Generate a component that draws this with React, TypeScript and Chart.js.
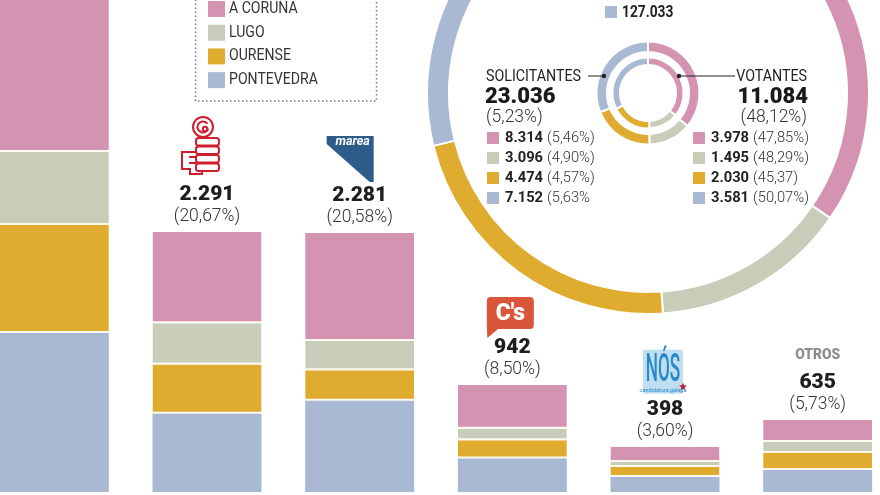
import React, { useEffect, useRef } from 'react';
import { Chart, registerables } from 'chart.js';

Chart.register(...registerables);

// ---------- data ----------
const provinces = ['A CORUÑA', 'LUGO', 'OURENSE', 'PONTEVEDRA'];
const provinceColors = ['#d494b1', '#c7cdb9', '#e0ac30', '#a9b9d4'];

const parties = ['PP', 'PSOE', 'En Marea', "C's", 'NÓS', 'OTROS'];
const partyTotals = ['4.537', '2.291', '2.281', '942', '398', '635'];
const partyPercents = ['(40,93%)', '(20,67%)', '(20,58%)', '(8,50%)', '(3,60%)', '(5,73%)'];
const votesCoruna = [1542, 805, 950, 385, 133, 194];
const votesLugo = [643, 362, 258, 100, 45, 97];
const votesOurense = [951, 434, 268, 162, 88, 150];
const votesPontevedra = [1401, 690, 805, 295, 132, 194];
const barAxisMax = 4335;

const censusByProvince = [152271, 63184, 97899, 127033];
const censusVisibleLabel = '127.033';

const applicantsTitle = 'SOLICITANTES';
const applicantsTotal = '23.036';
const applicantsPercent = '(5,23%)';
const applicants = [8314, 3096, 4474, 7152];
const applicantLabels = ['8.314', '3.096', '4.474', '7.152'];
const applicantPercents = ['(5,46%)', '(4,90%)', '(4,57%)', '(5,63%'];

const votersTitle = 'VOTANTES';
const votersTotal = '11.084';
const votersPercent = '(48,12%)';
const voters = [3978, 1495, 2030, 3581];
const voterLabels = ['3.978', '1.495', '2.030', '3.581'];
const voterPercents = ['(47,85%)', '(48,29%)', '(45,37)', '(50,07%)'];

// ---------- layout constants ----------
const FF = "Roboto, 'Noto Sans', sans-serif";
const BAR_LEFT = -22;
const BAR_W = 916;
const RING_LEFT = 426;
const RING_TOP = -129;
const RING_SIZE = 444;
const GAP = '#fdf9ee';

function drawText(
  ctx: CanvasRenderingContext2D,
  s: string,
  x: number,
  y: number,
  font: string,
  color: string,
  align: CanvasTextAlign = 'left',
  sx = 1
): number {
  ctx.save();
  ctx.font = font;
  ctx.fillStyle = color;
  ctx.textBaseline = 'middle';
  ctx.textAlign = align;
  const w = ctx.measureText(s).width * sx;
  ctx.translate(x, y);
  ctx.scale(sx, 1);
  ctx.fillText(s, 0, 0);
  ctx.restore();
  return w;
}

function roundRect(ctx: CanvasRenderingContext2D, x: number, y: number, w: number, h: number, r: number) {
  ctx.beginPath();
  ctx.moveTo(x + r, y);
  ctx.lineTo(x + w - r, y);
  ctx.quadraticCurveTo(x + w, y, x + w, y + r);
  ctx.lineTo(x + w, y + h - r);
  ctx.quadraticCurveTo(x + w, y + h, x + w - r, y + h);
  ctx.lineTo(x + r, y + h);
  ctx.quadraticCurveTo(x, y + h, x, y + h - r);
  ctx.lineTo(x, y + r);
  ctx.quadraticCurveTo(x, y, x + r, y);
  ctx.closePath();
}

function drawLogo(ctx: CanvasRenderingContext2D, i: number, cx: number, top: number) {
  ctx.save();
  ctx.translate(cx, top);
  if (i === 1) {
    // PSOE rose & fist (simplified)
    const red = '#cf1f2e';
    ctx.strokeStyle = red;
    ctx.lineWidth = 2;
    ctx.beginPath();
    ctx.arc(-4, -105, 10, 0, Math.PI * 2);
    ctx.stroke();
    ctx.beginPath();
    ctx.arc(-4, -105, 5.5, 0.3, Math.PI * 1.8);
    ctx.stroke();
    ctx.beginPath();
    ctx.arc(-2, -103, 2.2, 0, Math.PI * 2);
    ctx.stroke();
    for (let k = 0; k < 4; k++) {
      roundRect(ctx, -11, -94 + k * 8.5, 23, 7.5, 2.5);
      ctx.stroke();
    }
    ctx.beginPath();
    ctx.moveTo(-11, -80);
    ctx.lineTo(-25, -80);
    ctx.lineTo(-25, -63);
    ctx.lineTo(-17, -63);
    ctx.lineTo(-17, -58);
    ctx.lineTo(-5, -58);
    ctx.lineTo(-5, -62);
    ctx.stroke();
    ctx.beginPath();
    ctx.moveTo(-18, -75);
    ctx.lineTo(-11, -75);
    ctx.moveTo(-18, -69);
    ctx.lineTo(-11, -69);
    ctx.stroke();
  } else if (i === 2) {
    // En Marea
    ctx.fillStyle = '#2e5c8a';
    ctx.beginPath();
    ctx.moveTo(-33, -97);
    ctx.lineTo(14, -97);
    ctx.lineTo(14, -51);
    ctx.lineTo(10, -51);
    ctx.lineTo(-33, -89);
    ctx.closePath();
    ctx.fill();
    drawText(ctx, 'marea', -7, -91.5, `italic bold 12.5px ${FF}`, '#ffffff', 'center');
  } else if (i === 3) {
    // Ciudadanos
    ctx.fillStyle = '#d9563b';
    roundRect(ctx, -25.5, -88, 47, 32, 4);
    ctx.fill();
    ctx.beginPath();
    ctx.moveTo(-25.5, -60);
    ctx.lineTo(-25, -47);
    ctx.lineTo(-13, -57);
    ctx.closePath();
    ctx.fill();
    drawText(ctx, "C's", -2, -71, `900 24px ${FF}`, '#ffffff', 'center', 0.95);
  } else if (i === 4) {
    // NÓS
    ctx.fillStyle = '#bfdff1';
    roundRect(ctx, -22, -97, 40, 44, 2);
    ctx.fill();
    drawText(ctx, 'NÓS', -2, -76, `500 39px ${FF}`, '#2a8ac8', 'center', 0.44);
    drawText(ctx, 'candidatura galega', -2, -56, `5.5px ${FF}`, '#2a8ac8', 'center');
    // star
    ctx.fillStyle = '#b0283a';
    ctx.beginPath();
    const sx = 18, sy = -60;
    for (let k = 0; k < 10; k++) {
      const r = k % 2 === 0 ? 4 : 1.8;
      const a = -Math.PI / 2 + (k * Math.PI) / 5;
      const px = sx + r * Math.cos(a);
      const py = sy + r * Math.sin(a);
      if (k === 0) ctx.moveTo(px, py);
      else ctx.lineTo(px, py);
    }
    ctx.closePath();
    ctx.fill();
  } else if (i === 5) {
    drawText(ctx, 'OTROS', 0, -65, `900 15px ${FF}`, '#8c8c8c', 'center', 0.92);
  }
  ctx.restore();
}

const barLabelsPlugin = {
  id: 'barLabels',
  afterDatasetsDraw(chart: any) {
    const ctx: CanvasRenderingContext2D = chart.ctx;
    const topMeta = chart.getDatasetMeta(chart.data.datasets.length - 1);
    topMeta.data.forEach((el: any, i: number) => {
      const cx = el.x;
      const top = el.y;
      if (top - 15 < 0) return;
      drawLogo(ctx, i, cx, top);
      drawText(ctx, partyTotals[i], cx, top - 37, `900 21px ${FF}`, '#1e1e1e', 'center');
      drawText(ctx, partyPercents[i], cx, top - 15, `300 17.5px ${FF}`, '#333333', 'center');
    });
  },
};

const boxLegendPlugin = {
  id: 'boxLegend',
  afterDraw(chart: any) {
    const ctx: CanvasRenderingContext2D = chart.ctx;
    ctx.save();
    ctx.translate(-BAR_LEFT, 0);
    ctx.strokeStyle = '#7a7a7a';
    ctx.lineWidth = 1.5;
    ctx.setLineDash([1.5, 2.5]);
    ctx.strokeRect(195.5, -5, 181, 106);
    ctx.setLineDash([]);
    const ds = [...chart.data.datasets].reverse();
    ds.forEach((d: any, k: number) => {
      const y = 9 + k * 23.7;
      ctx.fillStyle = d.backgroundColor;
      ctx.fillRect(208, y - 8, 17, 16);
      drawText(ctx, d.label, 229, y, `16px ${FF}`, '#333333', 'left', 0.88);
    });
    ctx.restore();
  },
};

const ringTextPlugin = {
  id: 'ringText',
  afterDraw(chart: any) {
    const ctx: CanvasRenderingContext2D = chart.ctx;
    ctx.save();
    ctx.translate(-RING_LEFT, -RING_TOP);

    // visible census label
    ctx.fillStyle = provinceColors[3];
    ctx.fillRect(605, 6, 12, 12);
    drawText(ctx, censusVisibleLabel, 622, 12.5, `bold 16px ${FF}`, '#222222', 'left', 0.86);

    // leader lines
    ctx.strokeStyle = '#222222';
    ctx.fillStyle = '#222222';
    ctx.lineWidth = 1;
    ctx.beginPath();
    ctx.moveTo(588, 76);
    ctx.lineTo(604, 76);
    ctx.moveTo(679, 76);
    ctx.lineTo(735, 76);
    ctx.stroke();
    ctx.beginPath();
    ctx.arc(604, 76, 2.2, 0, Math.PI * 2);
    ctx.arc(679, 76, 2.2, 0, Math.PI * 2);
    ctx.fill();

    // left block: applicants
    drawText(ctx, applicantsTitle, 486, 77, `16px ${FF}`, '#222222', 'left', 0.89);
    drawText(ctx, applicantsTotal, 485, 97.5, `900 22px ${FF}`, '#1a1a1a', 'left');
    drawText(ctx, applicantsPercent, 486, 117.5, `300 17.5px ${FF}`, '#333333', 'left');
    applicants.forEach((_, k) => {
      const y = 138 + k * 20;
      ctx.fillStyle = provinceColors[k];
      ctx.fillRect(487, y - 6, 12, 12);
      const w = drawText(ctx, applicantLabels[k], 505, y, `bold 15.5px ${FF}`, '#222222', 'left', 0.95);
      drawText(ctx, applicantPercents[k], 505 + w + 4, y, `300 15.5px ${FF}`, '#333333', 'left', 0.95);
    });

    // right block: voters
    drawText(ctx, votersTitle, 807, 77, `16px ${FF}`, '#222222', 'right', 0.89);
    drawText(ctx, votersTotal, 808, 97.5, `900 22px ${FF}`, '#1a1a1a', 'right');
    drawText(ctx, votersPercent, 807, 117.5, `300 17.5px ${FF}`, '#333333', 'right');
    voters.forEach((_, k) => {
      const y = 138 + k * 20;
      ctx.fillStyle = provinceColors[k];
      ctx.fillRect(693, y - 6, 12, 12);
      const w = drawText(ctx, voterLabels[k], 711, y, `bold 15.5px ${FF}`, '#222222', 'left', 0.95);
      drawText(ctx, voterPercents[k], 711 + w + 4, y, `300 15.5px ${FF}`, '#333333', 'left', 0.95);
    });
    ctx.restore();
  },
};

export default function App() {
  const barRef = useRef<HTMLCanvasElement>(null);
  const ringRef = useRef<HTMLCanvasElement>(null);

  useEffect(() => {
    const gapBorder = { top: 0, left: 0, right: 0, bottom: 2 };
    const bar = new Chart(barRef.current as HTMLCanvasElement, {
      type: 'bar',
      data: {
        labels: parties,
        datasets: [
          { label: provinces[3], data: votesPontevedra, backgroundColor: provinceColors[3], borderWidth: 0 },
          { label: provinces[2], data: votesOurense, backgroundColor: provinceColors[2], borderColor: GAP, borderWidth: gapBorder, borderSkipped: false },
          { label: provinces[1], data: votesLugo, backgroundColor: provinceColors[1], borderColor: GAP, borderWidth: gapBorder, borderSkipped: false },
          { label: provinces[0], data: votesCoruna, backgroundColor: provinceColors[0], borderColor: GAP, borderWidth: gapBorder, borderSkipped: false },
        ] as any,
      },
      options: {
        responsive: false,
        animation: false,
        events: [],
        layout: { padding: { top: 0, bottom: 3, left: 0, right: 0 } },
        plugins: { legend: { display: false }, tooltip: { enabled: false } },
        datasets: { bar: { categoryPercentage: 1, barPercentage: 0.714 } },
        scales: {
          x: { display: false, stacked: true },
          y: { display: false, stacked: true, min: 0, max: barAxisMax },
        },
      } as any,
      plugins: [barLabelsPlugin, boxLegendPlugin],
    });

    const clear = 'rgba(0,0,0,0)';
    const ring = new Chart(ringRef.current as HTMLCanvasElement, {
      type: 'doughnut',
      data: {
        labels: provinces,
        datasets: [
          { data: censusByProvince, backgroundColor: provinceColors, borderColor: '#ffffff', borderWidth: 2, weight: 22 },
          { data: [1], backgroundColor: [clear], borderWidth: 0, weight: 147.5 },
          { data: applicants, backgroundColor: provinceColors, borderColor: '#ffffff', borderWidth: 2, weight: 10.5 },
          { data: [1], backgroundColor: [clear], borderWidth: 0, weight: 5.5 },
          { data: voters, backgroundColor: provinceColors, borderColor: '#ffffff', borderWidth: 2, weight: 7.5 },
        ] as any,
      },
      options: {
        responsive: false,
        animation: false,
        events: [],
        cutout: '12.67%',
        layout: { padding: 0 },
        plugins: { legend: { display: false }, tooltip: { enabled: false } },
      } as any,
      plugins: [ringTextPlugin],
    });

    return () => {
      bar.destroy();
      ring.destroy();
    };
  }, []);

  return (
    <div
      style={{
        position: 'fixed',
        left: 0,
        top: 0,
        width: 880,
        height: 495,
        overflow: 'hidden',
        background: '#ffffff',
      }}
    >
      <canvas
        ref={barRef}
        width={BAR_W}
        height={495}
        style={{ position: 'absolute', left: BAR_LEFT, top: 0, width: BAR_W, height: 495 }}
      />
      <canvas
        ref={ringRef}
        width={RING_SIZE}
        height={RING_SIZE}
        style={{ position: 'absolute', left: RING_LEFT, top: RING_TOP, width: RING_SIZE, height: RING_SIZE }}
      />
    </div>
  );
}
